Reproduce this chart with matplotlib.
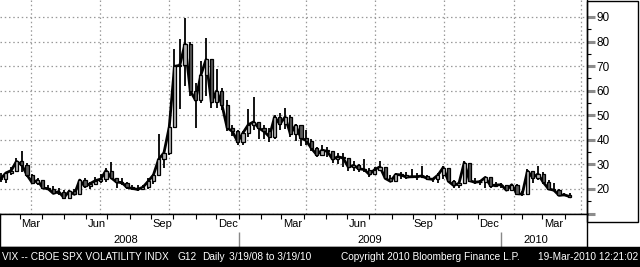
import matplotlib
matplotlib.use('Agg')
import matplotlib.pyplot as plt
from matplotlib.patches import Rectangle
import numpy as np
import pandas as pd

plt.rc('font', family='Liberation Sans', size=8)

# weekly bars, VIX, weeks ending Friday
week_end = pd.date_range('2008-02-22', '2010-03-19', freq='W-FRI')
first_open = 24.5
close = [24.1, 26.5, 27.5, 31.2, 29.8, 25.7, 22.5, 23.5, 20.4, 20.1,
         18.2, 18.9, 16.5, 19.0, 17.8, 23.6, 21.0, 22.2, 23.4, 24.0,
         27.5, 24.5, 22.8, 22.6, 20.6, 20.2, 19.8, 20.7, 23.1, 25.7,
         32.1, 34.7, 45.1, 69.9, 70.3, 79.1, 59.9, 56.1, 66.3, 72.7,
         55.3, 59.9, 54.3, 44.9, 43.4,
         39.2, 42.8, 46.1, 47.3, 44.8, 43.4, 41.3, 49.3, 46.4, 49.3,
         42.4, 45.9, 40.8, 39.7, 36.5, 33.9, 35.8, 35.3, 32.1, 33.1,
         32.6, 28.9, 29.6, 28.2, 27.9, 25.9, 27.9, 29.0, 24.3, 23.1,
         25.9, 25.7, 24.8, 25.0, 25.0, 25.3, 24.2, 23.9, 25.6, 28.7,
         23.1, 21.4, 22.3, 30.7, 23.4, 22.7, 23.0, 24.7, 21.3, 21.6,
         21.7, 19.5, 21.7,
         18.1, 17.9, 27.3, 24.6, 26.1, 22.7, 20.0, 19.5, 17.4, 17.6, 16.9]
high = [26.5, 27.0, 29.0, 32.5, 35.6, 30.5, 26.0, 24.5, 23.5, 21.5,
        21.0, 20.5, 19.5, 19.5, 20.0, 24.0, 24.5, 23.0, 25.0, 26.0,
        28.5, 30.8, 24.5, 24.5, 23.0, 21.5, 21.5, 21.5, 24.5, 26.0,
        42.2, 36.0, 46.0, 76.9, 81.2, 89.5, 80.0, 63.0, 72.0, 81.5,
        73.0, 69.0, 61.0, 56.0, 46.0,
        44.0, 43.5, 52.5, 57.4, 47.3, 46.0, 45.0, 50.0, 51.0, 53.0,
        50.0, 46.5, 46.0, 44.0, 40.5, 37.0, 38.0, 37.0, 35.3, 34.5,
        34.5, 32.6, 31.5, 30.0, 32.0, 28.5, 29.0, 31.5, 29.0, 25.5,
        26.5, 27.0, 27.0, 28.0, 26.5, 29.3, 25.5, 24.5, 26.5, 29.5,
        28.7, 23.5, 23.0, 31.5, 30.7, 24.5, 23.5, 25.0, 24.7, 23.0,
        22.5, 21.7, 22.0,
        22.0, 19.0, 28.0, 27.3, 29.2, 27.0, 23.5, 22.5, 20.0, 18.5, 18.5]
low = [23.0, 22.5, 25.5, 26.8, 27.0, 24.8, 22.0, 21.5, 20.0, 19.5,
       17.8, 17.5, 16.3, 16.3, 17.5, 17.8, 20.5, 20.0, 21.5, 22.5,
       23.0, 24.0, 20.5, 21.5, 20.0, 19.5, 19.0, 19.5, 20.0, 22.0,
       25.5, 28.5, 34.0, 45.0, 52.5, 62.0, 58.0, 45.0, 55.0, 58.0,
       53.0, 53.0, 52.0, 43.5, 41.5,
       38.0, 38.0, 41.0, 44.0, 40.5, 40.5, 39.0, 40.5, 44.0, 44.5,
       41.0, 39.5, 37.5, 38.0, 35.5, 33.0, 33.5, 33.0, 30.5, 30.0,
       29.0, 27.5, 27.5, 27.0, 27.0, 25.0, 25.5, 27.5, 24.0, 23.0,
       23.0, 24.0, 24.0, 24.5, 23.5, 24.5, 23.5, 23.0, 22.5, 24.0,
       23.0, 20.5, 20.5, 22.0, 23.0, 22.0, 21.5, 20.5, 20.5, 21.0,
       20.5, 19.5, 19.5,
       18.0, 17.0, 17.5, 22.5, 23.5, 22.0, 19.5, 19.0, 17.0, 17.0, 16.5]

yticks = [10, 20, 30, 40, 50, 60, 70, 80, 90]
month_names = ['Jan', 'Feb', 'Mar', 'Apr', 'May', 'Jun',
               'Jul', 'Aug', 'Sep', 'Oct', 'Nov', 'Dec']
shown_months = ['Mar', 'Jun', 'Sep', 'Dec']
years = [2008, 2009, 2010]

footer_left = 'VIX -- CBOE SPX VOLATILITY INDX'
footer_g = 'G12'
footer_daily = 'Daily'
footer_range = '3/19/08 to 3/19/10'
footer_copy = 'Copyright 2010 Bloomberg Finance L.P.'
footer_stamp = '19-Mar-2010 12:21:02'

# x axis counted in business days from 1 Apr 2008
base = np.datetime64('2008-04-01')
def bday(d):
    return np.busday_count(base, np.asarray(d, dtype='datetime64[D]'))

close = np.array(close)
high = np.array(high)
low = np.array(low)
opn = np.r_[first_open, close[:-1]]
x = bday(week_end.values) - 2

x0, x1 = -29.6, 527.5
W, H = 640, 267
fig = plt.figure(figsize=(W / 100, H / 100), dpi=100)

ax = fig.add_axes([0, 53 / H, 587 / W, 214 / H])
ax.set_xlim(x0, x1)
ax.set_ylim(9.8, 96.9)

# closes joined, then wicks and candle bodies
ax.plot(x, close, color='black', lw=2.0, zorder=2)
ax.vlines(x, low, high, color='black', lw=1.3, zorder=3)
up = close >= opn
ax.bar(x[up], close[up] - opn[up], bottom=opn[up], width=3.0,
       color='#b4b4b4', edgecolor='black', lw=0.9, zorder=4)
ax.bar(x[~up], opn[~up] - close[~up], bottom=close[~up], width=3.0,
       color='#5a5a5a', edgecolor='black', lw=0.9, zorder=4)

months = pd.date_range('2008-02-01', '2010-05-01', freq='MS')
mx = bday(months.values)
quarters = [m for m, d in zip(mx, months) if d.month in (1, 4, 7, 10)]
ax.set_xticks(quarters)
ax.tick_params(axis='x', length=0, labelbottom=False)
ax.grid(True, color='#999999', lw=0.9, linestyle=(0, (1.2, 2.2)))

ax.yaxis.tick_right()
ax.set_yticks(yticks)
ax.set_yticklabels([''] + [str(v) for v in yticks[1:]])
ax.set_yticks(np.arange(15, 95, 10), minor=True)
ax.tick_params(axis='y', which='major', direction='out', length=6, width=2.2,
               color='#8c8c8c', pad=1, labelsize=8.5)
ax.tick_params(axis='y', which='minor', direction='out', length=3, width=0.8,
               color='black')
for s in ['top', 'left']:
    ax.spines[s].set_visible(False)
ax.spines['bottom'].set_linewidth(1)
ax.spines['right'].set_linewidth(1)

# date panel
dax = fig.add_axes([0, 20 / H, 587 / W, 33 / H])
dax.set_xlim(x0, x1)
dax.set_ylim(0, 1)
dax.set_xticks(mx)
dax.tick_params(axis='x', top=True, bottom=False, direction='in', length=3.5,
                width=0.8, labelbottom=False)
dax.set_yticks([])
for s in dax.spines.values():
    s.set_linewidth(1)
for i, d in enumerate(months[:-1]):
    name = month_names[d.month - 1]
    mid = (mx[i] + mx[i + 1]) / 2
    if name in shown_months and x0 < mid < x1:
        dax.text(mid, 0.69, name, ha='center', va='center', fontsize=8)
for y in years:
    a = max(bday(np.datetime64(f'{y}-01-01')), x0)
    b = min(bday(np.datetime64(f'{y + 1}-01-01')), x1)
    dax.text((a + b) / 2, 0.22, str(y), ha='center', va='center', fontsize=8)
    if y > years[0]:
        dax.vlines(a, 0, 0.45, color='#888888', lw=1)

# right label box and footer bar
fig.add_artist(Rectangle((587 / W, 45 / H), 51 / W, (H - 45.5) / H,
                         transform=fig.transFigure, fill=False, ec='black', lw=1))
fig.add_artist(Rectangle((0, 0), 1, 20 / H, transform=fig.transFigure,
                         color='black'))
fy = 10 / H
for px, t in [(2, footer_left), (177, footer_g), (202, footer_daily),
              (229, footer_range), (341, footer_copy)]:
    fig.text(px / W, fy, t, color='white', va='center', fontsize=7.3)
fig.text(638 / W, fy, footer_stamp, color='white', va='center', ha='right',
         fontsize=7.3)

plt.savefig('out.png', dpi=100)
